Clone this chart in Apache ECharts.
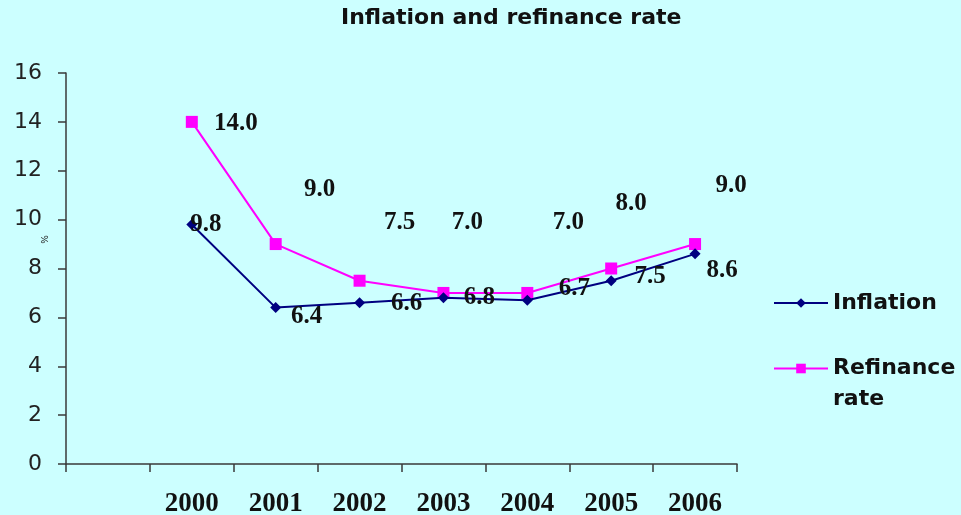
<!DOCTYPE html>
<html>
<head>
<meta charset="utf-8">
<script src="https://cdn.jsdelivr.net/npm/echarts@6/dist/echarts.min.js"></script>
<style>
  html, body { margin: 0; padding: 0; background: #ccffff; }
  #chart { width: 961px; height: 515px; }
</style>
</head>
<body>
<div id="chart"></div>
<script>
// Years shown on the category axis
const years = ['2000', '2001', '2002', '2003', '2004', '2005', '2006'];
// Annual inflation, %
const inflation = [9.8, 6.4, 6.6, 6.8, 6.7, 7.5, 8.6];
// Central bank refinance rate, %
const refinanceRate = [14.0, 9.0, 7.5, 7.0, 7.0, 8.0, 9.0];
// Y axis range
const yMin = 0, yMax = 16, yStep = 2;

// Value labels are placed freely next to their markers (dx, dy from the point)
const inflationLabelShift = [[14, 0], [31, 9], [47, 1], [36, 0], [47, -12], [39, -4], [27, 17]];
const refinanceLabelShift = [[44, 2], [44, -55], [40, -58], [24, -70], [41, -70], [20, -65], [36, -59]];

// One empty slot before the first year keeps the left band free
const xCats = [''].concat(years);

function withLabels(values, shifts) {
  return [null].concat(values.map((v, i) => ({
    value: v,
    label: { offset: shifts[i] }
  })));
}

const labelStyle = {
  show: true,
  position: 'inside',
  fontFamily: '"Liberation Serif", "Times New Roman", serif',
  fontWeight: 'bold',
  fontSize: 25,
  color: '#111',
  formatter: p => Number(p.value).toFixed(1)
};

const legendText = {
  fontFamily: '"DejaVu Sans", sans-serif',
  fontWeight: 'bold',
  fontSize: 22,
  color: '#111'
};

const chart = echarts.init(document.getElementById('chart'), null, { renderer: 'canvas' });
chart.setOption({
  backgroundColor: '#ccffff',
  animation: false,
  title: {
    text: 'Inflation and refinance rate',
    left: 336,
    top: 2,
    textStyle: {
      fontFamily: '"DejaVu Sans", sans-serif',
      fontWeight: 'bold',
      fontSize: 22,
      color: '#111'
    }
  },
  legend: [
    {
      data: ['Inflation'],
      left: 773,
      top: 292,
      padding: 0,
      itemWidth: 54,
      itemHeight: 12,
      textStyle: legendText
    },
    {
      data: ['Refinance rate'],
      left: 773,
      top: 322,
      padding: 0,
      itemWidth: 54,
      itemHeight: 12,
      // blank first line so the symbol sits beside the first word
      formatter: () => ' \nRefinance\nrate',
      textStyle: Object.assign({ lineHeight: 31 }, legendText)
    }
  ],
  grid: {
    left: 66, right: 224, top: 73, bottom: 51,
    containLabel: false,
    outerBoundsMode: 'none'
  },
  xAxis: {
    type: 'category',
    data: xCats,
    boundaryGap: true,
    axisLine: { lineStyle: { color: '#3a3a3a', width: 1.5 } },
    axisTick: { show: true, length: 8, inside: false, lineStyle: { color: '#3a3a3a', width: 1.5 } },
    axisLabel: {
      margin: 27,
      fontFamily: '"Liberation Serif", "Times New Roman", serif',
      fontWeight: 'bold',
      fontSize: 27,
      color: '#111'
    },
    splitLine: { show: false }
  },
  yAxis: {
    type: 'value',
    min: yMin,
    max: yMax,
    interval: yStep,
    name: '%',
    nameLocation: 'middle',
    nameRotate: 90,
    nameGap: 16,
    nameMoveOverlap: false,
    nameTextStyle: {
      fontSize: 9,
      color: '#222',
      fontFamily: '"DejaVu Sans", sans-serif',
      padding: [0, 0, 0, 58]
    },
    axisLine: { show: true, lineStyle: { color: '#3a3a3a', width: 1.5 } },
    axisTick: { show: true, length: 8, lineStyle: { color: '#3a3a3a', width: 1.5 } },
    axisLabel: {
      margin: 24,
      fontFamily: '"DejaVu Sans", sans-serif',
      fontSize: 22,
      color: '#222'
    },
    splitLine: { show: false }
  },
  series: [
    {
      name: 'Inflation',
      type: 'line',
      data: withLabels(inflation, inflationLabelShift),
      symbol: 'diamond',
      symbolSize: 11,
      lineStyle: { color: '#000080', width: 2 },
      itemStyle: { color: '#000080' },
      label: labelStyle,
      z: 3
    },
    {
      name: 'Refinance rate',
      type: 'line',
      data: withLabels(refinanceRate, refinanceLabelShift),
      symbol: 'rect',
      symbolSize: 12,
      lineStyle: { color: '#ff00ff', width: 2 },
      itemStyle: { color: '#ff00ff' },
      label: labelStyle,
      z: 2
    }
  ]
});
</script>
</body>
</html>
